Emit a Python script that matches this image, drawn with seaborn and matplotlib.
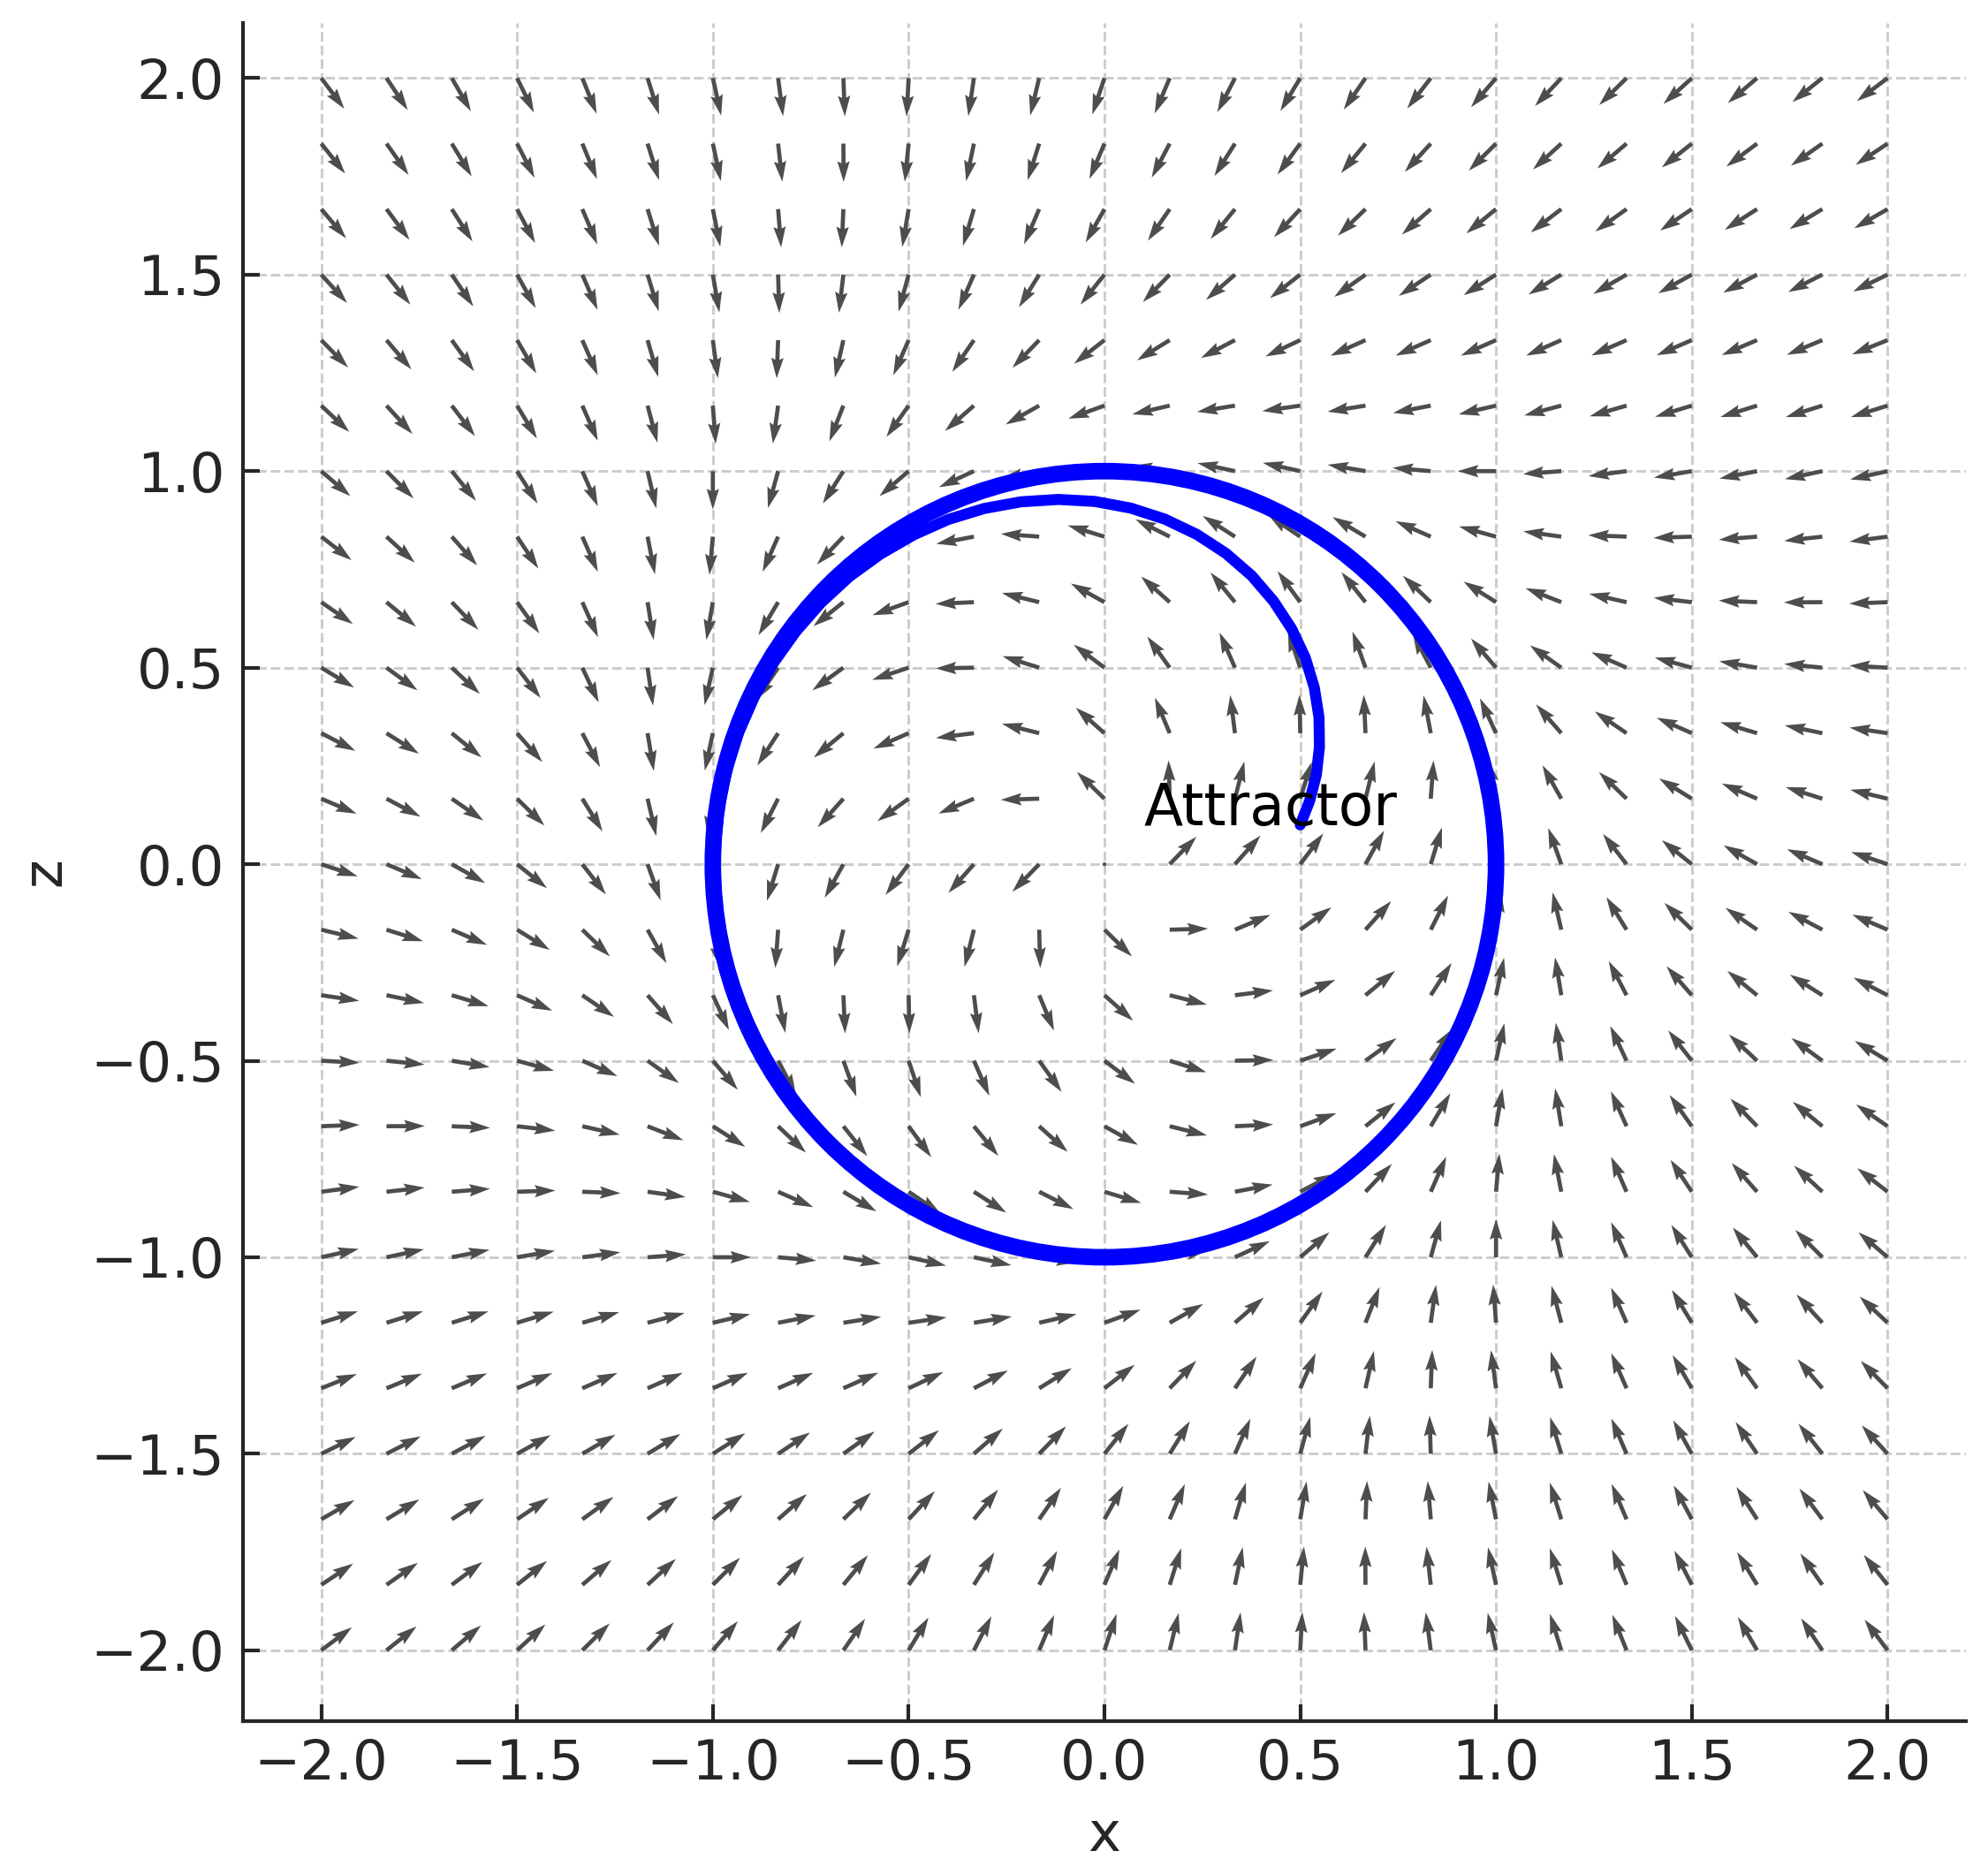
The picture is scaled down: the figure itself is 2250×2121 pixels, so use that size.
import numpy as np
import matplotlib
matplotlib.use("Agg")
import matplotlib.pyplot as plt
from matplotlib.patches import Circle
import seaborn as sns

# grid of the direction field (25 x 25 arrows)
x_grid = np.linspace(-2.0, 2.0, 25)
z_grid = np.linspace(-2.0, 2.0, 25)

# Hopf normal form, growth and rotation rates
mu = 1.0
omega = 1.0

# trajectory from (0.5, 0.1) spiralling out onto the cycle
traj_x = [0.500, 0.524, 0.541, 0.549, 0.548, 0.536, 0.513, 0.478, 0.432,
          0.376, 0.310, 0.236, 0.154, 0.067, -0.025, -0.118, -0.213, -0.307,
          -0.399, -0.487, -0.572, -0.651, -0.724, -0.788, -0.846, -0.894,
          -0.934, -0.964, -0.984, -0.994, -0.995, -0.985, -0.966, -0.936,
          -0.897]
traj_z = [0.100, 0.161, 0.227, 0.298, 0.373, 0.449, 0.525, 0.599, 0.669,
          0.734, 0.791, 0.839, 0.878, 0.906, 0.923, 0.928, 0.922, 0.905,
          0.877, 0.838, 0.789, 0.732, 0.665, 0.592, 0.511, 0.426,
          0.335, 0.240, 0.144, 0.044, -0.056, -0.155, -0.250, -0.348,
          -0.439]

# limit cycle
cycle_center = (0.0, 0.0)
cycle_radius = 1.0

label_text = "Attractor"
label_xy = (0.1, 0.1)


def main():
    sns.set_theme(style="ticks", rc={
        "axes.grid": True,
        "grid.linestyle": "--",
        "grid.color": "#cccccc",
        "grid.linewidth": 0.7,
        "xtick.direction": "in",
        "ytick.direction": "in",
        "axes.linewidth": 1.0,
        "xtick.major.size": 4.5,
        "ytick.major.size": 4.5,
        "xtick.major.width": 1.0,
        "ytick.major.width": 1.0,
        "axes.edgecolor": "#262626",
    })
    plt.rcParams["font.family"] = ["DejaVu Sans"]

    fig = plt.figure(figsize=(7.5, 7.07), dpi=300)
    ax = fig.add_axes([0.1222, 0.0816, 0.8667, 0.9061])

    # direction field, arrows normalised to unit length
    X, Z = np.meshgrid(x_grid, z_grid)
    R2 = X**2 + Z**2
    U = mu * X - omega * Z - X * R2
    V = omega * X + mu * Z - Z * R2
    N = np.hypot(U, V)
    N[N == 0] = 1
    ax.quiver(X, Z, U / N, V / N, color="#4d4d4d", zorder=1)

    # limit cycle and trajectory
    ax.add_patch(Circle(cycle_center, cycle_radius, fill=False,
                        color="blue", lw=4.5, zorder=2))
    sns.lineplot(x=traj_x, y=traj_z, sort=False, estimator=None,
                 color="blue", lw=3, ax=ax, zorder=2)

    ax.text(label_xy[0], label_xy[1], label_text, fontsize=15.5, color="black")

    ax.set_xlim(-2.2, 2.2)
    ax.set_ylim(-2.18, 2.14)
    ax.set_xticks(np.arange(-2.0, 2.01, 0.5))
    ax.set_yticks(np.arange(-2.0, 2.01, 0.5))
    ax.tick_params(axis="x", labelsize=15, pad=4.5)
    ax.tick_params(axis="y", labelsize=15, pad=5)
    ax.set_xlabel("x", fontsize=15, labelpad=5)
    ax.set_ylabel("z", fontsize=15, labelpad=5)
    sns.despine(ax=ax)

    fig.savefig("out.png", dpi=300)


if __name__ == "__main__":
    main()
